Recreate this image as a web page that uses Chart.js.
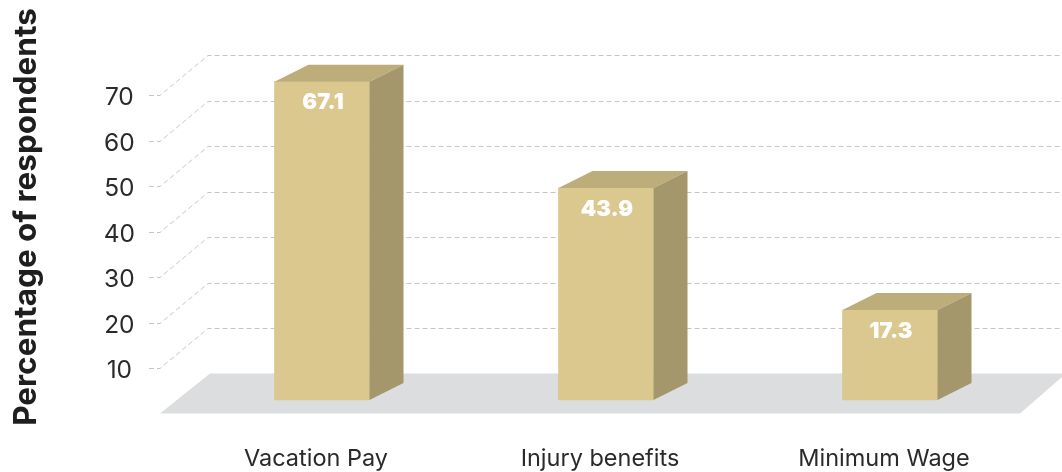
<!DOCTYPE html>
<html>
<head>
<meta charset="utf-8">
<title>Percentage of respondents</title>
<script src="https://cdn.jsdelivr.net/npm/chart.js@4"></script>
<style>
    html, body { margin: 0; padding: 0; background: #fff; }
    canvas { display: block; }
</style>
</head>
<body>
<canvas id="benefits" width="1062" height="472"></canvas>
<script>
var categories = ['Vacation Pay', 'Injury benefits', 'Minimum Wage']
var respondents = [67.1, 43.9, 17.3]
var tick_values = [10, 20, 30, 40, 50, 60, 70]

var axis_title = 'Percentage of respondents'
var font_name = 'Inter, "Liberation Sans", sans-serif'

var front_color = '#DBC88F'
var top_color = '#BCAD7A'
var side_color = '#A4976C'
var floor_color = '#DCDDDF'
var grid_color = '#C6C6C6'
var text_color = '#2A2A2A'

// 3D look: how far the back wall sits from the front plane
var wall_dx = 48
var wall_dy = 40
var bar_dx = 34
var bar_dy = 17

var wall_plugin = {
    id: 'wall',
    beforeDatasetsDraw: function(chart){
        var ctx = chart.ctx
        var y = chart.scales.y
        var area = chart.chartArea
        var zero = y.getPixelForValue(0)

        // floor
        ctx.save()
        ctx.fillStyle = floor_color
        ctx.beginPath()
        ctx.moveTo(area.left - 20, zero)
        ctx.lineTo(1020, zero)
        ctx.lineTo(1066, zero - wall_dy)
        ctx.lineTo(area.left + 30, zero - wall_dy)
        ctx.closePath()
        ctx.fill()

        // dashed grid, goes along the side wall then along the back
        ctx.strokeStyle = grid_color
        ctx.lineWidth = 1
        ctx.setLineDash([5, 3])
        tick_values.forEach(function(value){
            var py = Math.round(y.getPixelForValue(value)) + 0.5
            ctx.beginPath()
            ctx.moveTo(area.left - 31, py)
            ctx.lineTo(area.left - 20, py)
            ctx.lineTo(area.left - 20 + wall_dx, py - wall_dy)
            ctx.lineTo(chart.width, py - wall_dy)
            ctx.stroke()
        })
        ctx.restore()
    },
    afterDatasetsDraw: function(chart){
        var ctx = chart.ctx
        var bars = chart.getDatasetMeta(0).data
        ctx.save()
        bars.forEach(function(bar, i){
            var p = bar.getProps(['x', 'y', 'base', 'width'], true)
            var left = p.x - p.width / 2
            var right = p.x + p.width / 2

            ctx.fillStyle = top_color
            ctx.beginPath()
            ctx.moveTo(left, p.y)
            ctx.lineTo(left + bar_dx, p.y - bar_dy)
            ctx.lineTo(right + bar_dx, p.y - bar_dy)
            ctx.lineTo(right, p.y)
            ctx.closePath()
            ctx.fill()

            ctx.fillStyle = side_color
            ctx.beginPath()
            ctx.moveTo(right, p.y)
            ctx.lineTo(right + bar_dx, p.y - bar_dy)
            ctx.lineTo(right + bar_dx, p.base - bar_dy)
            ctx.lineTo(right, p.base)
            ctx.closePath()
            ctx.fill()

            // value on the front face
            ctx.fillStyle = '#FFFFFF'
            ctx.font = '900 22px ' + font_name
            ctx.textAlign = 'center'
            ctx.textBaseline = 'middle'
            ctx.fillText(respondents[i].toFixed(1), p.x + 1, p.y + 21)
        })
        ctx.restore()
    }
}

var ctx = document.getElementById('benefits')
var myChart = new Chart(ctx, {
    type: 'bar',
    data: {
        labels: categories,
        datasets: [{
            label: axis_title,
            data: respondents,
            yAxisID: 'bars',
            backgroundColor: front_color,
            barThickness: 95,
            base: -2.33
        }]
    },
    options: {
        responsive: false,
        animation: false,
        layout: { padding: { left: 0, right: 30, top: 20.5, bottom: 0 } },
        plugins: {
            legend: { display: false },
            tooltip: { enabled: false }
        },
        scales: {
            x: {
                grid: { display: false },
                border: { display: false },
                ticks: {
                    color: text_color,
                    font: { family: font_name, size: 23.5 },
                    padding: 23,
                    labelOffset: -6,
                    maxRotation: 0
                },
                afterFit: function(scale){ scale.height = 58.5 }
            },
            y: {
                min: 0,
                max: 86.4,
                // invisible tick marks: they push the labels away from the plot
                grid: { drawOnChartArea: false, tickLength: 45, tickColor: 'transparent' },
                border: { display: false },
                afterBuildTicks: function(scale){
                    scale.ticks = tick_values.map(function(value){ return { value: value } })
                },
                ticks: {
                    color: text_color,
                    font: { family: font_name, size: 24.5 },
                    crossAlign: 'center',
                    labelOffset: 3,
                    padding: 0
                },
                title: {
                    display: true,
                    text: axis_title,
                    color: '#1E1E1E',
                    font: { family: font_name, size: 31.5, weight: '700' },
                    padding: { top: 8, bottom: 0 }
                },
                afterFit: function(scale){ scale.width = 180 }
            },
            // front faces stand a little forward of the wall, so they get their own scale
            bars: {
                display: false,
                min: -5.28,
                max: 80.45
            }
        }
    },
    plugins: [wall_plugin]
})
</script>
</body>
</html>
